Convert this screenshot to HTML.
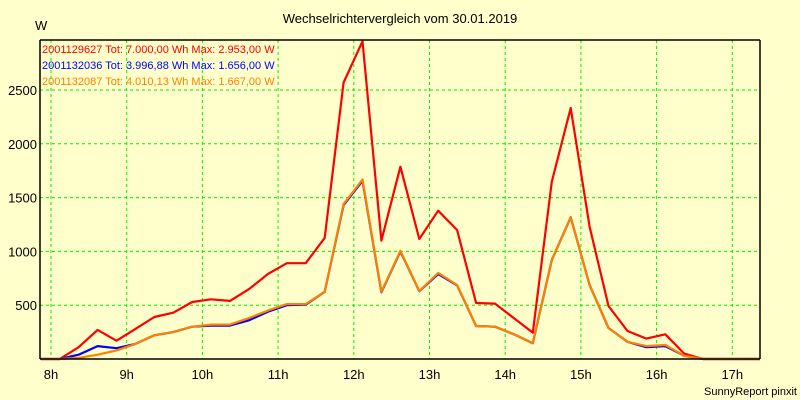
<!DOCTYPE html>
<html><head><meta charset="utf-8"><style>
html,body{margin:0;padding:0;background:#ffffcc;}
svg{display:block;font-family:"Liberation Sans",sans-serif;}
</style></head><body>
<svg id="chart" width="800" height="400" viewBox="0 0 800 400">
<rect width="800" height="400" fill="#ffffcc"/>
<text x="400" y="23" text-anchor="middle" font-size="13" fill="#000">Wechselrichtervergleich vom 30.01.2019</text>
<text x="35" y="30" font-size="13" fill="#000">W</text>
<g id="grid"></g>
<g id="yticks"></g>
<g id="xticks"></g>
<g id="series"></g>
<line x1="40" y1="40" x2="40" y2="359" stroke="#000" stroke-width="1.5"/>
<line x1="40" y1="359" x2="760" y2="359" stroke="#000" stroke-width="1.5"/>
<line x1="40" y1="40" x2="760" y2="40" stroke="#000" stroke-width="1.5"/>
<line x1="760" y1="40" x2="760" y2="359" stroke="#000" stroke-width="1.5"/>
<g font-size="11">
<text x="42" y="53" fill="#ff0000">2001129627 Tot: 7.000,00 Wh Max: 2.953,00 W</text>
<text x="42" y="69" fill="#0000ff">2001132036 Tot: 3.996,88 Wh Max: 1.656,00 W</text>
<text x="42" y="85" fill="#ff8000">2001132087 Tot: 4.010,13 Wh Max: 1.667,00 W</text>
</g>
<text x="797" y="395" text-anchor="end" font-size="11" fill="#000">SunnyReport pinxit</text>
</svg>
<script>
const hourLabels = ["8h","9h","10h","11h","12h","13h","14h","15h","16h","17h"];
const hourValues = [8,9,10,11,12,13,14,15,16,17];
const yTickValues = [500,1000,1500,2000,2500];
const startTime = 7.865;
const stepHours = 0.25;
const redValues = [0,0,110,270,170,280,390,430,530,555,540,650,790,890,890,1125,2570,2953,1100,1787,1115,1378,1199,520,515,380,245,1648,2333,1230,493,260,190,230,50,0,0,0,0];
const blueValues = [0,0,40,120,100,140,220,250,300,310,310,360,440,500,505,625,1430,1656,620,1000,630,790,685,307,300,230,146,920,1317,688,288,160,110,120,30,0,0,0,0];
const orangeValues = [0,0,10,40,80,140,220,250,300,320,320,380,450,510,510,625,1440,1667,625,1006,632,800,688,307,300,230,146,920,1317,688,288,160,120,130,30,0,0,0,0];

const X0 = 51, PXH = 75.7, Y0 = 359, PXW = 0.1076;
function xScale(h){ return X0 + (h - 8) * PXH; }
function yScale(v){ return Y0 - v * PXW; }
const NS = "http://www.w3.org/2000/svg";
const grid = document.getElementById("grid");
const yt = document.getElementById("yticks");
const xt = document.getElementById("xticks");
const ser = document.getElementById("series");

hourValues.forEach((h,i)=>{
  const x = xScale(h);
  const l = document.createElementNS(NS,"line");
  l.setAttribute("x1",x);l.setAttribute("x2",x);l.setAttribute("y1",40);l.setAttribute("y2",359);
  l.setAttribute("stroke","#00ee00");l.setAttribute("stroke-dasharray","3,3");
  
  
  grid.appendChild(l);
  const t = document.createElementNS(NS,"text");
  t.setAttribute("x",x);t.setAttribute("y",379);t.setAttribute("text-anchor","middle");t.setAttribute("font-size","13");
  t.textContent = hourLabels[i];
  
  
  xt.appendChild(t);
});
yTickValues.forEach(v=>{
  const y = yScale(v);
  const l = document.createElementNS(NS,"line");
  l.setAttribute("x1",40);l.setAttribute("x2",760);l.setAttribute("y1",y);l.setAttribute("y2",y);
  l.setAttribute("stroke","#00ee00");l.setAttribute("stroke-dasharray","3,3");
  
  
  grid.appendChild(l);
  const t = document.createElementNS(NS,"text");
  t.setAttribute("x",37);t.setAttribute("y",y+5);t.setAttribute("text-anchor","end");t.setAttribute("font-size","13");
  t.textContent = String(v);
  
  
  yt.appendChild(t);
});
function drawSeries(vals,color,name){
  const pts = vals.map((v,i)=>xScale(startTime+i*stepHours).toFixed(1)+","+yScale(v).toFixed(1)).join(" ");
  const p = document.createElementNS(NS,"polyline");
  p.setAttribute("points",pts);p.setAttribute("fill","none");p.setAttribute("stroke",color);
  p.setAttribute("stroke-width","2.2");p.setAttribute("stroke-linejoin","round");
  
  
  ser.appendChild(p);
}
drawSeries(redValues,"#ff0000","series-2001129627");
drawSeries(blueValues,"#0000ff","series-2001132036");
drawSeries(orangeValues,"#ff8000","series-2001132087");
</script>
</body></html>
